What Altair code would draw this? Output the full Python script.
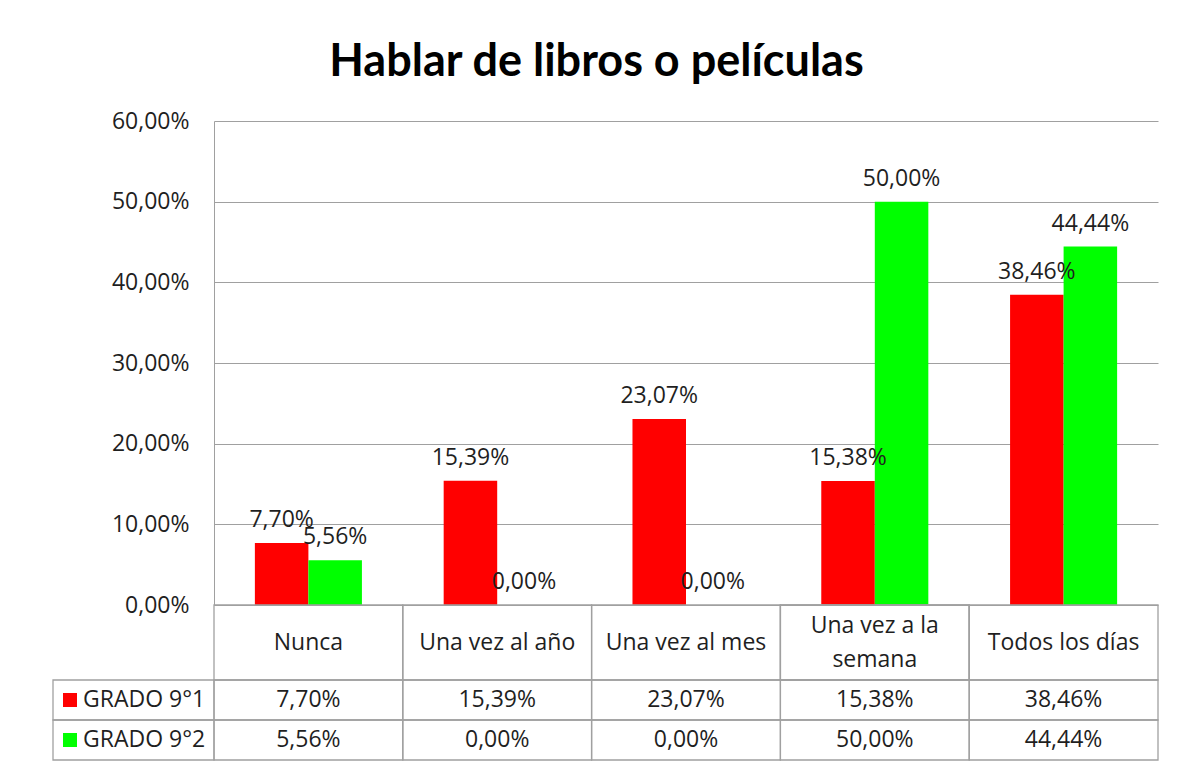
import altair as alt
import pandas as pd

# ---- data ----
categories = ["Nunca", "Una vez al año", "Una vez al mes", "Una vez a la semana", "Todos los días"]
header_labels = ["Nunca", "Una vez al año", "Una vez al mes", "Una vez a la\nsemana", "Todos los días"]
series = ["GRADO 9°1", "GRADO 9°2"]
grado_1 = [0.0770, 0.1539, 0.2307, 0.1538, 0.3846]
grado_2 = [0.0556, 0.0000, 0.0000, 0.5000, 0.4444]
y_ticks = [0.0, 0.1, 0.2, 0.3, 0.4, 0.5, 0.6]
title_text = "Hablar de libros o películas"

rows = []
for i, c in enumerate(categories):
    rows.append({"categoria": c, "serie": series[0], "valor": grado_1[i]})
    rows.append({"categoria": c, "serie": series[1], "valor": grado_2[i]})
df = pd.DataFrame(rows)

hrows = []
for c, lab in zip(categories, header_labels):
    parts = lab.split("\n")
    for k, p in enumerate(parts):
        hrows.append({"categoria": c, "linea": p, "idx": k, "n": len(parts)})
header_df = pd.DataFrame(hrows)
label_df = pd.DataFrame({"serie": series})

# ---- styles ----
FONT = "Open Sans"
FS = 23
GRID = "#a0a0a0"
TXT = "#1f1f1f"
LINE_H = 34
HEADER_H = 75
pct_expr = "replace(format(datum.valor, '.2%'), '.', ',')"
color_scale = alt.Scale(domain=series, range=["#ff0000", "#00ff00"])

# ---- top bar chart ----
base = alt.Chart(df).transform_calculate(label=pct_expr)
x_top = alt.X("categoria:N", sort=categories,
              scale=alt.Scale(paddingInner=0.433, paddingOuter=0.2165), axis=None)
y_top = alt.Y("valor:Q", scale=alt.Scale(domain=[0, 0.6], nice=False),
              axis=alt.Axis(values=y_ticks,
                            labelExpr="replace(format(datum.value, '.2%'), '.', ',')",
                            title=None, grid=True, gridColor=GRID, domainColor=GRID,
                            ticks=False, labelPadding=25, labelFont=FONT,
                            labelFontSize=FS, labelColor=TXT))
bars = base.mark_bar().encode(
    x=x_top,
    xOffset=alt.XOffset("serie:N", sort=series),
    y=y_top,
    color=alt.Color("serie:N", scale=color_scale, legend=None),
)
bar_labels = base.mark_text(font=FONT, fontSize=FS, color=TXT, baseline="alphabetic", dy=-16).encode(
    x=x_top,
    xOffset=alt.XOffset("serie:N", sort=series),
    y=y_top,
    text="label:N",
)
top = alt.layer(bars, bar_labels).properties(width=944, height=484)

# ---- header row of data table ----
x_tab = alt.X("categoria:N", sort=categories,
              scale=alt.Scale(paddingInner=0, paddingOuter=0), axis=None)
half = HEADER_H / LINE_H / 2
hbase = alt.Chart(header_df).encode(x=x_tab)
header_cells = hbase.mark_rect(fill="transparent", stroke=GRID, strokeWidth=1.3)
header_text = hbase.transform_calculate(
    pos="datum.idx - (datum.n - 1) / 2"
).mark_text(font=FONT, fontSize=FS, color=TXT, baseline="middle").encode(
    y=alt.Y("pos:Q", scale=alt.Scale(domain=[-half, half], reverse=True, nice=False), axis=None),
    text="linea:N",
)
header_chart = alt.layer(header_cells, header_text).properties(width=944, height=HEADER_H)

# ---- value rows of data table ----
y_tab = alt.Y("serie:N", sort=series, scale=alt.Scale(paddingInner=0, paddingOuter=0), axis=None)
rbase = alt.Chart(df).transform_calculate(label=pct_expr).encode(x=x_tab, y=y_tab)
cells = rbase.mark_rect(fill="transparent", stroke=GRID, strokeWidth=1.3)
vals = rbase.mark_text(font=FONT, fontSize=FS, color=TXT, baseline="middle").encode(text="label:N")

lbase = alt.Chart(label_df).encode(y=y_tab)
lab_cells = lbase.mark_rect(fill="transparent", stroke=GRID, strokeWidth=1.3).encode(
    x=alt.value(-161), x2=alt.value(0))
lab_sq = lbase.mark_square(size=196, opacity=1).encode(
    x=alt.value(-144), color=alt.Color("serie:N", scale=color_scale, legend=None))
lab_txt = lbase.mark_text(font=FONT, fontSize=FS, color=TXT, align="left", baseline="middle").encode(
    x=alt.value(-131), text="serie:N")
rows_chart = alt.layer(cells, vals, lab_cells, lab_sq, lab_txt).properties(width=944, height=80)

chart = alt.vconcat(top, header_chart, rows_chart, spacing=0, bounds="flush").resolve_scale(
    x="independent", y="independent"
).properties(
    title=alt.TitleParams(title_text, font="Lato", fontSize=45,
                          fontWeight="bold", color="#000000", anchor="middle",
                          offset=25, dx=-9),
    padding={"left": 44, "top": 32, "right": 5, "bottom": 5},
).configure_view(stroke=None)

chart.save("out.html", embed_options={"renderer": "svg", "actions": False})
